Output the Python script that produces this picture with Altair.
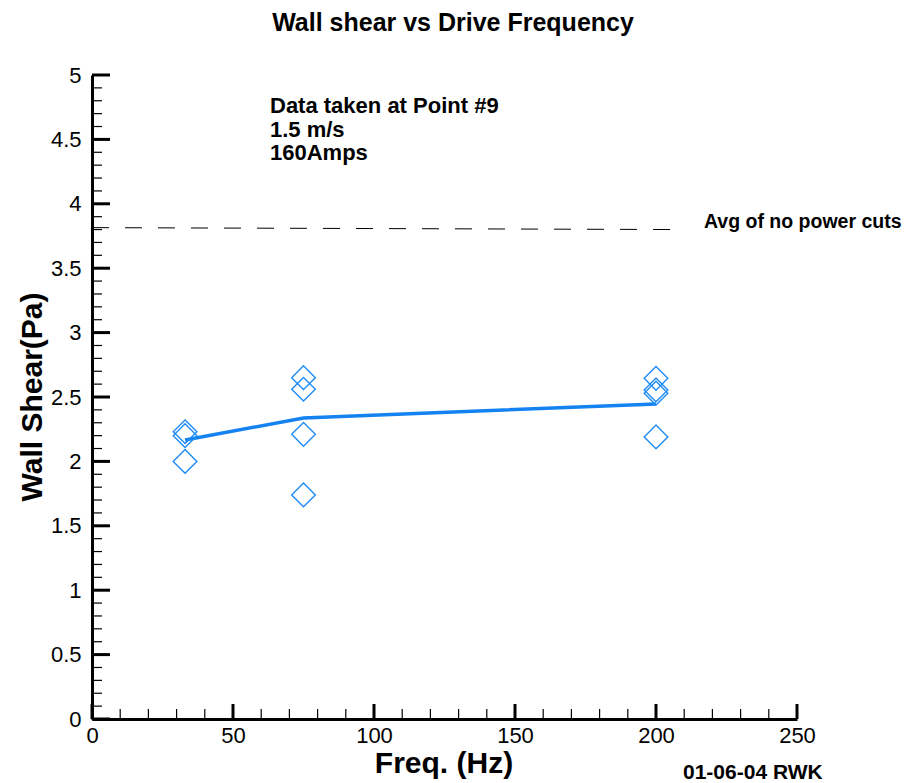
import altair as alt
import pandas as pd

# ---- data ----
freq_pts = [33, 33, 33, 75, 75, 75, 75, 200, 200, 200, 200]
shear_pts = [2.23, 2.20, 2.00, 2.65, 2.56, 2.21, 1.74, 2.645, 2.555, 2.53, 2.19]
freq_avg = [33, 75, 200]
shear_avg = [2.166, 2.337, 2.446]
ref_freq = [0, 208]
ref_shear = [3.815, 3.80]

x_major = [0, 50, 100, 150, 200, 250]
x_minor = [10, 20, 30, 40, 60, 70, 80, 90, 110, 120, 130, 140,
           160, 170, 180, 190, 210, 220, 230, 240]
y_major = [0, 0.5, 1, 1.5, 2, 2.5, 3, 3.5, 4, 4.5, 5]
y_minor = [0.1, 0.2, 0.3, 0.4, 0.6, 0.7, 0.8, 0.9, 1.1, 1.2, 1.3, 1.4,
           1.6, 1.7, 1.8, 1.9, 2.1, 2.2, 2.3, 2.4, 2.6, 2.7, 2.8, 2.9,
           3.1, 3.2, 3.3, 3.4, 3.6, 3.7, 3.8, 3.9, 4.1, 4.2, 4.3, 4.4,
           4.6, 4.7, 4.8, 4.9]

W, H = 705, 644
FONT = "Liberation Sans"
BLUE_PT = "#1f8cf5"
BLUE_LN = "#1482f0"

x_scale = alt.Scale(domain=[0, 250], nice=False, zero=False)
y_scale = alt.Scale(domain=[0, 5], nice=False, zero=False)

x_axis = alt.Axis(values=x_major, title=None, grid=False, ticks=False, tickSize=0,
                  labelPadding=6, labelFontSize=22, labelFont=FONT, labelColor="black",
                  domainWidth=3, domainColor="black", format="d", labelFlush=False)
y_axis = alt.Axis(values=y_major, title=None, grid=False, ticks=False, tickSize=0,
                  labelPadding=11, labelFontSize=22, labelFont=FONT, labelColor="black",
                  domainWidth=3, domainColor="black", format="~g", labelFlush=False)


def X(field):
    return alt.X(field, scale=x_scale, axis=x_axis)


def Y(field):
    return alt.Y(field, scale=y_scale, axis=y_axis)


pts_df = pd.DataFrame({"freq": freq_pts, "shear": shear_pts})
avg_df = pd.DataFrame({"freq": freq_avg, "shear": shear_avg})
ref_df = pd.DataFrame({"freq": ref_freq, "shear": ref_shear})

points = alt.Chart(pts_df).mark_point(
    shape="diamond", filled=False, size=560, strokeWidth=1.4, color=BLUE_PT, opacity=1
).encode(x=X("freq:Q"), y=Y("shear:Q"))

line = alt.Chart(avg_df).mark_line(color=BLUE_LN, strokeWidth=3.5).encode(
    x=X("freq:Q"), y=Y("shear:Q"))

ref = alt.Chart(ref_df).mark_line(color="black", strokeWidth=1, strokeDash=[17, 16]).encode(
    x=X("freq:Q"), y=Y("shear:Q"))

xmaj = alt.Chart(pd.DataFrame({"freq": x_major})).mark_rule(color="black", strokeWidth=3).encode(
    x=X("freq:Q"), y=alt.value(H), y2=alt.value(H - 15))
xmin = alt.Chart(pd.DataFrame({"freq": x_minor})).mark_rule(color="black", strokeWidth=1.2).encode(
    x=X("freq:Q"), y=alt.value(H), y2=alt.value(H - 10))
ymaj = alt.Chart(pd.DataFrame({"shear": y_major})).mark_rule(color="black", strokeWidth=3).encode(
    y=Y("shear:Q"), x=alt.value(0), x2=alt.value(18))
ymin = alt.Chart(pd.DataFrame({"shear": y_minor})).mark_rule(color="black", strokeWidth=1.2).encode(
    y=Y("shear:Q"), x=alt.value(0), x2=alt.value(10))


def label(txt, x, y, size, align="left", angle=0, weight="bold"):
    kw = dict(font=FONT, fontSize=size, fontWeight=weight, align=align,
              baseline="alphabetic", color="black")
    if angle:
        kw["angle"] = angle
    return alt.Chart(pd.DataFrame({"t": [txt]})).mark_text(**kw).encode(
        x=alt.value(x), y=alt.value(y), text="t:N")


texts = [
    label("Wall shear vs Drive Frequency", 361, -44, 25, align="center"),
    label("Data taken at Point #9", 178, 38, 22),
    label("1.5 m/s", 178, 62, 22),
    label("160Amps", 178, 85, 22),
    label("Avg of no power cuts", 612, 153, 19.5),
    label("Freq. (Hz)", 352, 698, 30, align="center"),
    label("Wall Shear(Pa)", -50, 322, 30, align="center", angle=270),
    label("01-06-04 RWK", 591, 704, 21),
]

chart = alt.layer(ymin, ymaj, xmin, xmaj, ref, line, points, *texts).properties(
    width=W, height=H,
    autosize=alt.AutoSizeParams(type="none"),
    padding={"left": 92, "top": 75, "right": 908 - 92 - W, "bottom": 783 - 75 - H},
    background="white",
).configure_view(stroke=None)

chart.save("out.html", embed_options={"renderer": "svg", "actions": False})
